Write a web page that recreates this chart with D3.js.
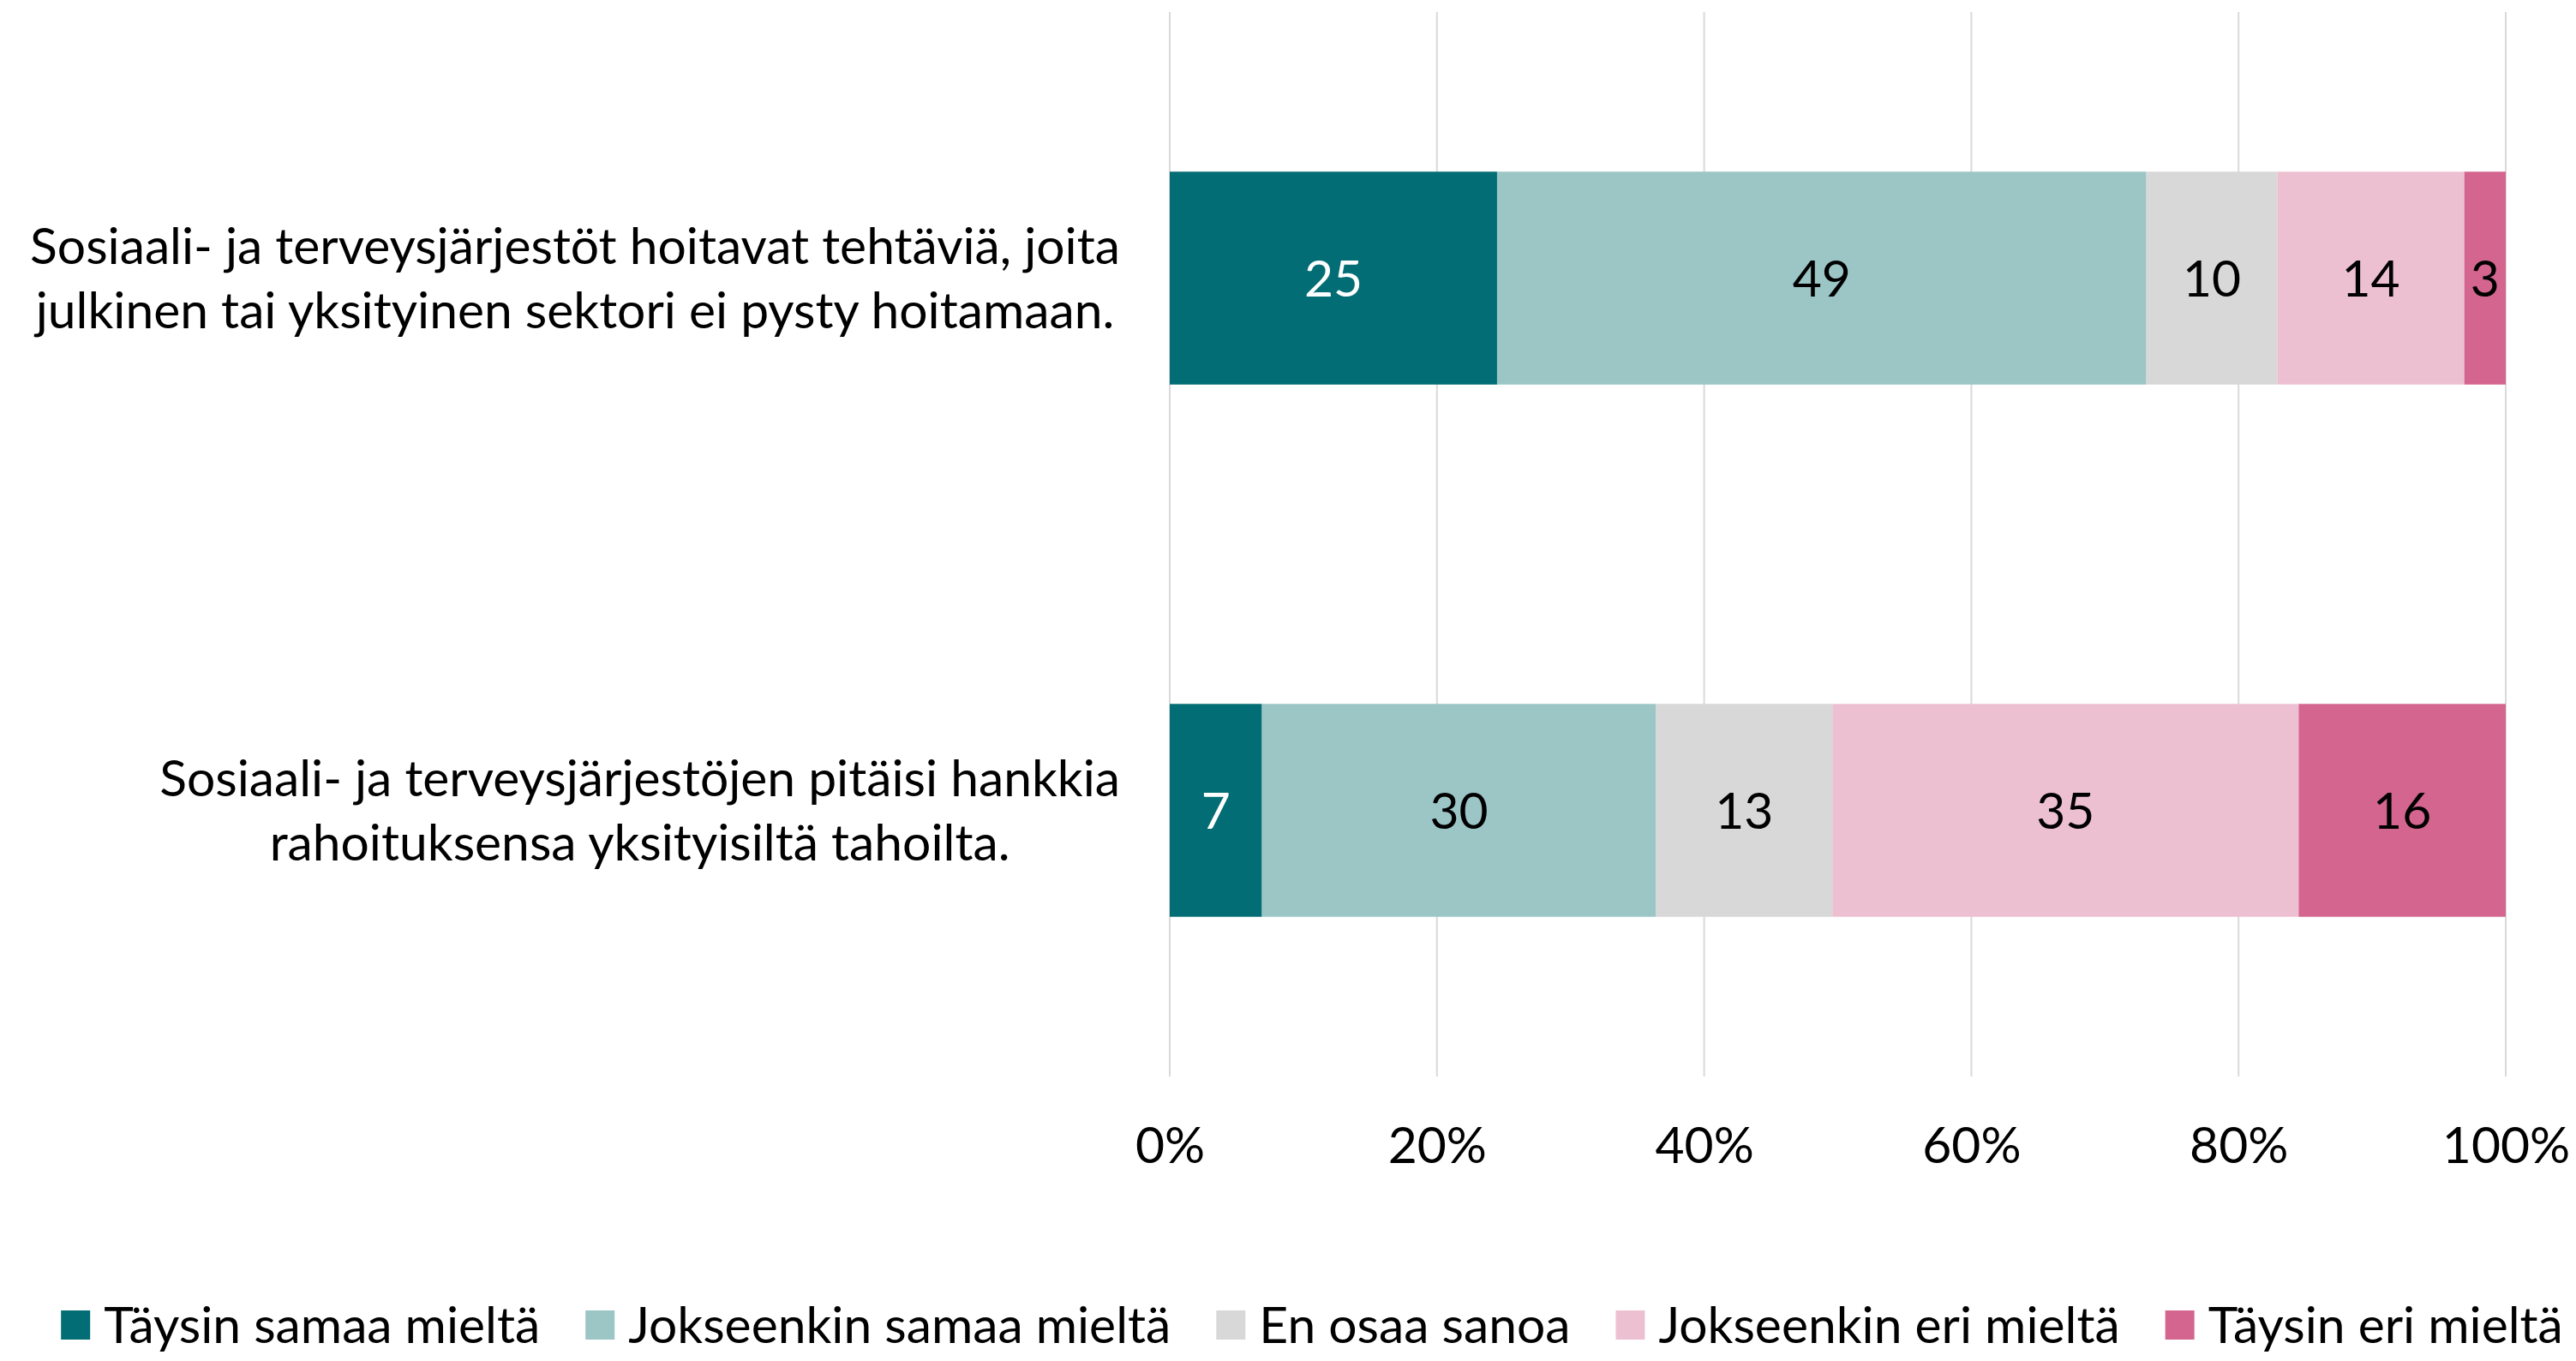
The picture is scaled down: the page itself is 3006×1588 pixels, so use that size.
<!DOCTYPE html>
<html><head><meta charset="utf-8">
<script src="https://cdn.jsdelivr.net/npm/d3@7"></script>
<style>
html,body{margin:0;padding:0;background:#fff;}
svg{display:block;}
</style></head>
<body>
<svg id="chart" width="3006" height="1588"></svg>
<script>
const categoryLines = [
  ["Sosiaali- ja terveysjärjestöt hoitavat tehtäviä, joita", "julkinen tai yksityinen sektori ei pysty hoitamaan."],
  ["Sosiaali- ja terveysjärjestöjen pitäisi hankkia", "rahoituksensa yksityisiltä tahoilta."]
];
const seriesNames = ["Täysin samaa mieltä", "Jokseenkin samaa mieltä", "En osaa sanoa", "Jokseenkin eri mieltä", "Täysin eri mieltä"];
const seriesValues = [
  [24.5, 6.9],
  [48.6, 29.5],
  [9.8, 13.2],
  [14.0, 34.9],
  [3.1, 15.5]
];
const seriesColors = ["#026d74", "#9cc5c6", "#d8d8d8", "#edc0d1", "#d3658e"];
const labelColors = ["#ffffff", "#000000", "#000000", "#000000", "#000000"];
const tickValues = [0, 20, 40, 60, 80, 100];
const tickLabels = ["0%", "20%", "40%", "60%", "80%", "100%"];

const FONT = "'Liberation Sans Narrow', 'Arial Narrow', Lato, sans-serif";
const svg = d3.select("#chart");

// fit font size to the reference line width
const probe = svg.append("text").attr("font-family", FONT).attr("font-size", 100).text(categoryLines[0][0]);
const pw = probe.node().getComputedTextLength();
probe.remove();
const fs = 100 * 1272 / pw;

const plot = {left: 1365, right: 2924, top: 14, bottom: 1256};
const x = d3.scaleLinear().domain([0, 100]).range([plot.left, plot.right]);
const y = d3.scaleBand().domain(d3.range(categoryLines.length)).range([plot.top, plot.bottom]).paddingInner(0.6).paddingOuter(0.3);

// gridlines
svg.append("g").selectAll("line").data(tickValues).join("line")
  .attr("x1", d => x(d)).attr("x2", d => x(d))
  .attr("y1", plot.top).attr("y2", plot.bottom)
  .attr("stroke", "#d9d9d9").attr("stroke-width", 2);

// x axis labels
const xAxis = d3.axisBottom(x).tickValues(tickValues).tickFormat((d, i) => tickLabels[i]).tickSize(0).tickPadding(0);
const ax = svg.append("g").attr("transform", `translate(0,${plot.bottom})`).call(xAxis);
ax.select(".domain").remove();
ax.selectAll("text").attr("font-family", FONT).attr("font-size", fs).attr("fill", "#000")
  .attr("dy", null).attr("y", 101);

// stacked data
const stacked = categoryLines.map((c, ci) => {
  let acc = 0;
  return seriesValues.map((vals, si) => {
    const v = vals[ci];
    const o = {ci, si, x0: acc, x1: acc + v, v};
    acc += v;
    return o;
  });
}).flat();

svg.append("g").selectAll("rect").data(stacked).join("rect")
  .attr("x", d => x(d.x0)).attr("width", d => x(d.x1) - x(d.x0))
  .attr("y", d => y(d.ci)).attr("height", y.bandwidth())
  .attr("fill", d => seriesColors[d.si]);

svg.append("g").selectAll("text").data(stacked).join("text")
  .attr("x", d => (x(d.x0) + x(d.x1)) / 2)
  .attr("y", d => y(d.ci) + y.bandwidth() / 2)
  .attr("dy", "0.36em")
  .attr("text-anchor", "middle")
  .attr("font-family", FONT).attr("font-size", fs)
  .attr("fill", d => labelColors[d.si])
  .text(d => Math.round(d.v));

// category labels: block right-aligned, lines centered
const labelRight = 1307;
const lineGap = 75;
categoryLines.forEach((lines, ci) => {
  const g = svg.append("g");
  const texts = lines.map(l => g.append("text").attr("font-family", FONT).attr("font-size", fs).attr("fill", "#000").text(l));
  const bw = d3.max(texts, t => t.node().getComputedTextLength());
  const cx = labelRight - bw / 2;
  const cy = y(ci) + y.bandwidth() / 2;
  texts.forEach((t, i) => {
    t.attr("text-anchor", "middle").attr("x", cx)
     .attr("y", cy + (i - (lines.length - 1) / 2) * lineGap).attr("dy", "0.36em");
  });
});

// legend
const legendY = 1546;
const sw = 34, swGap = 16, itemGap = 53;
const lg = svg.append("g");
let cursor = 0;
const items = seriesNames.map((name, i) => {
  const it = lg.append("g");
  it.append("rect").attr("x", 0).attr("y", legendY - sw / 2).attr("width", sw).attr("height", sw).attr("fill", seriesColors[i]);
  const t = it.append("text").attr("x", sw + swGap).attr("y", legendY).attr("dy", "0.36em")
    .attr("font-family", FONT).attr("font-size", fs).attr("fill", "#000").text(name);
  const w = sw + swGap + t.node().getComputedTextLength();
  it.attr("transform", `translate(${cursor},0)`);
  cursor += w + itemGap;
  return it;
});
const total = cursor - itemGap;
lg.attr("transform", `translate(${1531 - total / 2},0)`);
</script>
</body></html>
